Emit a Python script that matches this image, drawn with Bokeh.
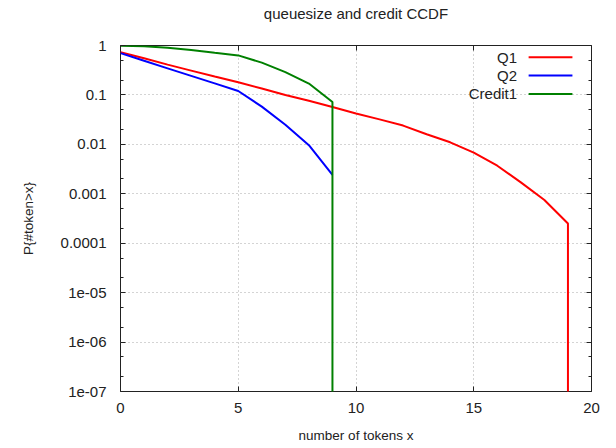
from bokeh.plotting import figure
from bokeh.models import FixedTicker, LogAxis, LinearAxis, CustomJSTickFormatter, Range1d
from bokeh.core.properties import value
from bokeh.embed import file_html
from bokeh.resources import INLINE

# ---- data ----
q1_x = [0, 1, 2, 3, 4, 5, 6, 7, 8, 9, 10, 11, 12, 13, 14, 15, 16, 17, 18, 19, 19]
q1_y = [0.73, 0.55, 0.41, 0.31, 0.235, 0.18, 0.135, 0.10, 0.076, 0.057, 0.042,
        0.032, 0.024, 0.016, 0.011, 0.0068, 0.0037, 0.0017, 0.00075, 0.00025, 1e-10]

q2_x = [0, 1, 2, 3, 4, 5, 6, 7, 8, 9]
q2_y = [0.70, 0.49, 0.345, 0.243, 0.171, 0.12, 0.058, 0.025, 0.0096, 0.0024]

c1_x = [0, 1, 2, 3, 4, 5, 6, 7, 8, 9, 9]
c1_y = [0.99, 0.97, 0.90, 0.81, 0.71, 0.63, 0.45, 0.29, 0.17, 0.072, 1e-10]

series_names = ["Q1", "Q2", "Credit1"]
series_colors = ["#ff0000", "#0000ff", "#008000"]

x_ticks = [0, 5, 10, 15, 20]
y_ticks = [1, 0.1, 0.01, 0.001, 0.0001, 1e-05, 1e-06, 1e-07]
y_tick_labels = ["1", "0.1", "0.01", "0.001", "0.0001", "1e-05", "1e-06", "1e-07"]
y_minor = [m * 10.0 ** (-k) for k in range(1, 8) for m in (2, 5)]

title_text = "queuesize and credit CCDF"

FONT = "Liberation Sans"
TXT = "#222222"

p = figure(width=616, height=448, output_backend="svg", toolbar_location=None, title=None,
           y_axis_type="log", x_range=Range1d(0, 20), y_range=Range1d(1e-7, 1),
           min_border_left=120, min_border_right=25, min_border_top=45, min_border_bottom=57)

p.outline_line_color = "#222222"
p.outline_line_width = 1
p.background_fill_color = "white"
p.border_fill_color = "white"

yfmt = CustomJSTickFormatter(args=dict(vals=y_ticks, labs=y_tick_labels), code="""
for (let i = 0; i < vals.length; i++) {
  if (Math.abs(Math.log10(tick) - Math.log10(vals[i])) < 1e-6) return labs[i];
}
return '';
""")
blank = CustomJSTickFormatter(code="return '';")

def style_axis(ax):
    ax.axis_line_color = None
    ax.major_tick_in = 5
    ax.major_tick_out = 0
    ax.minor_tick_in = 3
    ax.minor_tick_out = 0
    ax.major_tick_line_color = TXT
    ax.minor_tick_line_color = TXT
    ax.major_label_text_font = FONT
    ax.major_label_text_font_size = "15px"
    ax.major_label_text_color = TXT
    ax.axis_label_text_font = FONT
    ax.axis_label_text_font_size = "13.5px"
    ax.axis_label_text_font_style = "normal"
    ax.axis_label_text_color = TXT

xt = FixedTicker(ticks=x_ticks, minor_ticks=[])
yt = FixedTicker(ticks=y_ticks, minor_ticks=y_minor)

p.xaxis.ticker = xt
p.yaxis.ticker = yt
p.yaxis.formatter = yfmt
for ax in p.xaxis + p.yaxis:
    style_axis(ax)
p.xaxis.axis_label = "number of tokens x"
p.yaxis.axis_label = "P{#token>x}"
p.xaxis.major_label_standoff = 11
p.xaxis.axis_label_standoff = 12
p.yaxis.major_label_standoff = 14
p.yaxis.axis_label_standoff = 22

top_ax = LinearAxis(ticker=FixedTicker(ticks=x_ticks, minor_ticks=[]), formatter=blank)
right_ax = LogAxis(ticker=FixedTicker(ticks=y_ticks, minor_ticks=y_minor), formatter=blank)
for ax in (top_ax, right_ax):
    style_axis(ax)
    ax.major_label_standoff = 0
    ax.major_label_text_font_size = "1px"
# the chart title is carried by the (label-less) top axis
top_ax.axis_label = title_text
top_ax.axis_label_text_font_size = "15px"
top_ax.axis_label_standoff = 24
p.add_layout(top_ax, "above")
p.add_layout(right_ax, "right")

p.xgrid.ticker = xt
p.ygrid.ticker = yt
for g in (p.xgrid, p.ygrid):
    g.grid_line_color = "#a8a8a8"
    g.grid_line_dash = "1 3"
    g.grid_line_width = 1

for xs, ys, c in ((q1_x, q1_y, series_colors[0]), (q2_x, q2_y, series_colors[1]), (c1_x, c1_y, series_colors[2])):
    p.line(xs, ys, line_color=c, line_width=2)

# legend (gnuplot style: label, then sample line)
leg_text_x = 16.84
leg_line_x0, leg_line_x1 = 17.33, 19.19
leg_y = [0.58, 0.247, 0.105]
p.text(x=[leg_text_x] * 3, y=leg_y, text=series_names, text_align="right", text_baseline="middle",
       text_font=value(FONT), text_font_size="15px", text_color=TXT)
p.segment(x0=[leg_line_x0] * 3, x1=[leg_line_x1] * 3, y0=leg_y, y1=leg_y,
          line_color=series_colors, line_width=2)

open("out.html", "w").write(file_html(p, INLINE))
